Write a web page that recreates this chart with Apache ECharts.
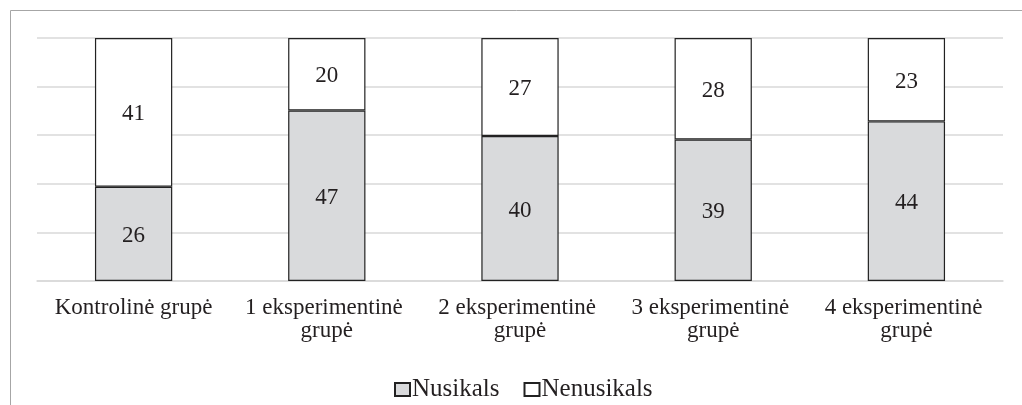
<!DOCTYPE html>
<html>
<head>
<meta charset="utf-8">
<script src="https://cdn.jsdelivr.net/npm/echarts@6/dist/echarts.min.js"></script>
<style>
  html, body { margin: 0; padding: 0; background: #fff; }
  #chart { width: 1022px; height: 405px; }
</style>
</head>
<body>
<div id="chart"></div>
<script>
// groups and counts
const categories = [
  'Kontrolinė grupė',
  '1 eksperimentinė grupė',
  '2 eksperimentinė grupė',
  '3 eksperimentinė grupė',
  '4 eksperimentinė grupė'
];
const nusikals = [26, 47, 40, 39, 44];
const nenusikals = [41, 20, 27, 28, 23];

const FONT = '"Liberation Serif", "Times New Roman", serif';

// 100% stacked: share of each group, label keeps the raw count
const totals = categories.map((c, i) => nusikals[i] + nenusikals[i]);
const share = (arr) => arr.map((v, i) => ({ value: v / totals[i] * 100, count: v }));

const chart = echarts.init(document.getElementById('chart'), null, { renderer: 'canvas' });

const labelStyle = {
  show: true,
  position: 'inside',
  color: '#231f20',
  fontFamily: FONT,
  fontSize: 23,
  offset: [0, 2],
  formatter: (p) => p.data.count
};

chart.setOption({
  animation: false,
  backgroundColor: '#fff',
  graphic: [{
    type: 'rect',
    shape: { x: 10.5, y: 10.5, width: 1200, height: 600 },
    style: { fill: 'none', stroke: '#a6a6a6', lineWidth: 1 },
    silent: true
  }],
  grid: { left: 37, right: 19, top: 38, bottom: 124 },
  legend: {
    top: 372,
    left: 389,
    icon: 'rect',
    itemWidth: 15,
    itemHeight: 13,
    itemGap: 24,
    textStyle: { fontFamily: FONT, fontSize: 25, color: '#231f20', padding: [0, 0, 0, -3] },
    data: ['Nusikals', 'Nenusikals']
  },
  xAxis: {
    type: 'category',
    data: categories,
    axisLine: { show: true, lineStyle: { color: '#d9d9d9', width: 1.5 } },
    axisTick: { show: false },
    axisLabel: {
      margin: 15,
      color: '#231f20',
      fontFamily: FONT,
      fontSize: 23,
      lineHeight: 23,
      width: 190,
      overflow: 'break',
      interval: 0
    }
  },
  yAxis: {
    type: 'value',
    min: 0,
    max: 100,
    interval: 20,
    axisLabel: { show: false },
    axisLine: { show: false },
    axisTick: { show: false },
    splitLine: { lineStyle: { color: '#d9d9d9', width: 1.5 } }
  },
  series: [
    {
      name: 'Nusikals',
      type: 'bar',
      stack: 'all',
      barCategoryGap: '60%',
      data: share(nusikals),
      itemStyle: { color: '#d9dadc', borderColor: '#222', borderWidth: 1.2 },
      label: labelStyle
    },
    {
      name: 'Nenusikals',
      type: 'bar',
      stack: 'all',
      barCategoryGap: '60%',
      data: share(nenusikals),
      itemStyle: { color: '#fff', borderColor: '#222', borderWidth: 1.2 },
      label: labelStyle
    }
  ]
});
</script>
</body>
</html>
